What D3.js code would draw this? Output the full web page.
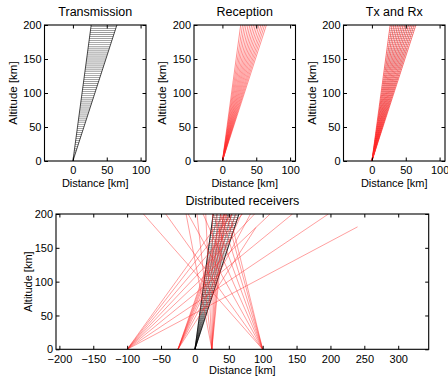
<!DOCTYPE html>
<html><head><meta charset="utf-8">
<script src="https://cdn.jsdelivr.net/npm/d3@7"></script>
<style>
body{margin:0;background:#fff;}
svg text{font-family:"Liberation Sans",Arial,Helvetica,sans-serif;fill:#000;}
</style></head>
<body><svg id="c" width="448" height="376"></svg>
<script>
// ---- data ----
const panelTitles = ["Transmission","Reception","Tx and Rx"];
const bottomTitle = "Distributed receivers";
const xLabel = "Distance [km]";
const yLabel = "Altitude [km]";
const topXTicks = [0,50,100];
const bottomXTicks = [-200,-150,-100,-50,0,50,100,150,200,250,300];
const yTicks = [0,50,100,150,200];
// beam edges: distance reached at 200 km altitude
const beamEdgesTop = [27,65];
// range-gate altitudes (transmission hatching)
const gateAltitudes = [3,6,9,12,15,18,21,24,27,30,33,36,39,42,45,48,51,54,57,60,63,66,69,72,75,78,81,84,87,90,93,96,99,102,105,108,111,114,117,120,123,126,129,132,135,138,141,144,147,150,153,156,159,162,165,168,171,174,177,180,183,186,189,192,195,198];
// reception rays from origin: distance reached at 200 km altitude
const rayTopX = [27,29.7,32.4,35.1,37.9,40.6,43.3,46,48.7,51.4,54.1,56.9,59.6,62.3,65];
// rays of the co-located receiver in the bottom panel
const beamRayTopX = [27,32.4,37.9,43.3,48.7,54.1,59.6,65];
// distributed receivers and end points of their rays [x, altitude]
const receiverX = [-100,-25,25,100];
const rxM100 = [[240,181],[197,200],[144,200],[111,200],[88,200],[70,200],[55,200],[44,200]];
const rxM25 = [[90,180],[82,200],[69,200],[61,200],[55,200],[51,200],[47,200],[44,200]];
const rxP25 = [[-13,200],[3,200],[16,200],[26,200],[33,200],[38,200],[42,200],[45,200]];
const rxP100 = [[-76,200],[-43,200],[-10,200],[12,200],[27,200],[38,200],[46,200],[51,200]];
const receiverRays = [rxM100, rxM25, rxP25, rxP100];

// ---- drawing ----
const svg = d3.select("#c");
const RED = "#ff2a2a";

function makePanel(id, left, right, top, bottom, xdom, xticks, title, titleY, xpad){
  const x = d3.scaleLinear().domain(xdom).range([left,right]);
  const y = d3.scaleLinear().domain([0,200]).range([bottom,top]);
  const g = svg.append("g");
  svg.append("clipPath").attr("id","clip"+id).append("rect")
    .attr("x",left).attr("y",top).attr("width",right-left).attr("height",bottom-top);
  const plot = g.append("g").attr("clip-path","url(#clip"+id+")");
  const axG = svg.append("g");
  const ts = -3.5;
  const ax = (axis, tr, lbl) => {
    const a = axG.append("g").attr("transform",tr).call(axis);
    a.select(".domain").remove();
    a.selectAll("line").attr("stroke","#000").attr("stroke-width",1);
    a.selectAll("text").attr("font-size","11px").style("font-family",'"Liberation Sans",Arial,sans-serif');
    if(!lbl) a.selectAll("text").remove();
    return a;
  };
  ax(d3.axisBottom(x).tickValues(xticks).tickSizeInner(ts).tickSizeOuter(0).tickPadding(xpad).tickFormat(d=>d<0?"\u2212"+(-d):d), `translate(0,${bottom})`, true);
  ax(d3.axisTop(x).tickValues(xticks).tickSizeInner(ts).tickSizeOuter(0), `translate(0,${top})`, false);
  ax(d3.axisLeft(y).tickValues(yTicks).tickSizeInner(ts).tickSizeOuter(0).tickPadding(3), `translate(${left},0)`, true);
  ax(d3.axisRight(y).tickValues(yTicks).tickSizeInner(ts).tickSizeOuter(0), `translate(${right},0)`, false);
  axG.append("rect").attr("x",left).attr("y",top).attr("width",right-left).attr("height",bottom-top)
    .attr("fill","none").attr("stroke","#000").attr("stroke-width",1.1);
  axG.append("text").attr("x",(left+right)/2).attr("y",titleY).attr("text-anchor","middle")
    .attr("font-size","12.5px").text(title);
  return {x,y,plot,g,left,right,top,bottom};
}

function drawGates(p, color, w, op){
  const [l,r] = beamEdgesTop;
  p.plot.selectAll(null).data(gateAltitudes).enter().append("line")
    .attr("x1",a=>p.x(l*a/200)).attr("x2",a=>p.x(r*a/200))
    .attr("y1",a=>p.y(a)).attr("y2",a=>p.y(a))
    .attr("stroke",color).attr("stroke-width",w).attr("opacity",op);
}
function drawEdges(p, color, w){
  p.plot.selectAll(null).data(beamEdgesTop).enter().append("line")
    .attr("x1",p.x(0)).attr("y1",p.y(0)).attr("x2",d=>p.x(d)).attr("y2",p.y(200))
    .attr("stroke",color).attr("stroke-width",w);
}
function drawRays(p, list, color, w, op){
  p.plot.selectAll(null).data(list).enter().append("line")
    .attr("x1",p.x(0)).attr("y1",p.y(0)).attr("x2",d=>p.x(d)).attr("y2",p.y(200))
    .attr("stroke",color).attr("stroke-width",w).attr("opacity",op);
}

const lefts = [44.5,194,343.5];
const W = 101.5;
const panels = lefts.map((l,i)=>makePanel("t"+i,l,l+W,25,161,[-42,108],topXTicks,panelTitles[i],16,5.5));

// Transmission
drawGates(panels[0],"#000",0.5,0.8);
drawEdges(panels[0],"#000",0.7);
// Reception
drawRays(panels[1],rayTopX,RED,0.6,0.85);
// Tx and Rx
drawGates(panels[2],"#666",0.45,0.8);
drawRays(panels[2],rayTopX,RED,0.7,0.9);

// Distributed receivers
const bp = makePanel("b",56,428.7,214,349.3,[-205,345],bottomXTicks,bottomTitle,205,6);
drawGates(bp,"#000",0.5,0.75);
drawRays(bp,beamRayTopX,"#000",0.5,0.7);
drawEdges(bp,"#000",0.7);
receiverX.forEach((rx,i)=>{
  bp.plot.selectAll(null).data(receiverRays[i]).enter().append("line")
    .attr("x1",bp.x(rx)).attr("y1",bp.y(0))
    .attr("x2",d=>bp.x(d[0])).attr("y2",d=>bp.y(d[1]))
    .attr("stroke",RED).attr("stroke-width",0.6).attr("opacity",0.75);
});

// axis labels
panels.forEach(p=>{
  svg.append("text").attr("x",(p.left+p.right)/2).attr("y",187).attr("text-anchor","middle")
    .attr("font-size","11px").text(xLabel);
  svg.append("text").attr("transform",`translate(${p.left-28},${(p.top+p.bottom)/2}) rotate(-90)`)
    .attr("text-anchor","middle").attr("font-size","11.5px").text(yLabel);
});
svg.append("text").attr("x",(bp.left+bp.right)/2).attr("y",374).attr("text-anchor","middle")
  .attr("font-size","11px").text(xLabel);
svg.append("text").attr("transform",`translate(${bp.left-24},${(bp.top+bp.bottom)/2}) rotate(-90)`)
  .attr("text-anchor","middle").attr("font-size","11px").text(yLabel);
</script></body></html>
